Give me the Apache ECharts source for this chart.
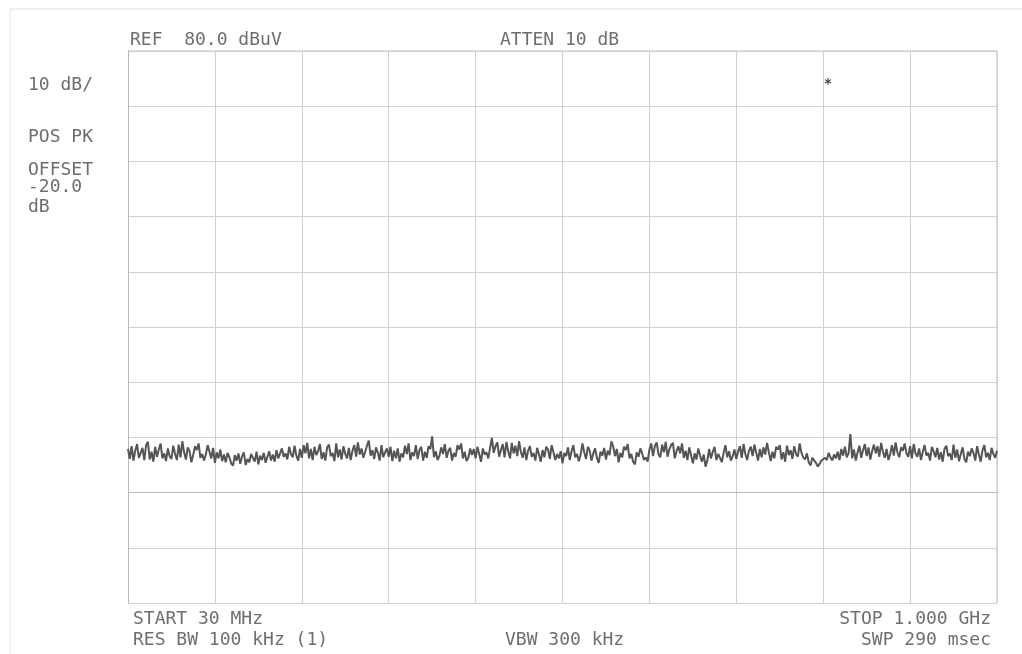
<!DOCTYPE html>
<html>
<head>
<meta charset="utf-8">
<style>
html,body{margin:0;padding:0;background:#fff;}
#chart{width:1022px;height:654px;}
</style>
<script src="https://cdn.jsdelivr.net/npm/echarts@6/dist/echarts.min.js"></script>
</head>
<body>
<div id="chart"></div>
<script>
// Sweep settings (MHz)
const START_MHZ = 30;
const STOP_MHZ = 1000;
// Amplitude scale (dBuV)
const REF_LEVEL = 80;
const DB_PER_DIV = 10;
const Y_MIN = -20;

// Trace values (dBuV), 481 sweep points (48 per division)
const traceCol1 = [7.9,6.1,8.4,5.8,7.6,8.8,6.3,7.2,8.1,5.9,8.6,9.2,6.0,7.4,5.6,8.3,6.5,7.8,8.9,6.2,7.1,5.7,8.0,6.6,6.1,8.5,7.0,5.9,8.7,6.4,9.3,7.3,6.0,8.2,7.5,5.5,6.8,8.4,7.7,8.9,6.3,7.0,5.8,6.9,8.6,7.4,6.2,8.1];
const traceCol2 = [5.4,7.3,6.2,7.8,5.7,6.9,5.5,7.2,6.4,5.3,4.9,6.8,5.8,7.1,5.2,6.6,7.3,5.0,6.1,5.5,7.0,6.3,5.6,7.4,5.1,6.7,5.9,7.2,5.4,6.5,7.5,5.8,6.9,5.6,7.7,6.2,5.9,8.0,6.5,7.1,6.0,8.3,7.0,6.4,8.5,6.7,5.8,7.9];
const traceCol3 = [6.3,8.6,7.1,9.0,6.2,7.9,5.9,8.3,6.8,7.5,8.8,6.1,7.3,5.8,8.2,8.7,6.6,7.2,5.7,8.9,6.4,7.8,6.0,8.4,7.0,6.2,8.1,5.9,7.6,8.6,6.5,9.1,6.9,8.0,6.3,7.4,8.5,9.4,6.7,7.7,6.1,8.2,7.2,5.8,8.6,6.4,7.3,8.0];
const traceCol4 = [6.5,8.3,5.7,7.6,6.2,8.0,5.6,7.1,6.4,8.5,7.0,8.9,5.9,7.3,6.6,8.6,6.1,7.7,8.3,5.8,7.4,6.3,8.4,7.9,10.2,6.4,7.5,5.9,6.6,8.2,7.0,8.8,6.3,7.6,8.1,5.8,7.2,6.5,8.6,7.8,8.9,6.2,7.4,5.7,6.3,8.0,6.8,7.9];
const traceCol5 = [6.2,8.3,7.0,5.6,8.0,6.9,7.3,6.2,8.1,9.9,7.2,8.4,9.1,6.5,7.7,8.8,6.4,9.2,7.5,6.2,9.0,7.1,8.5,6.6,9.3,7.4,6.3,8.2,5.9,7.6,8.4,6.5,7.2,5.8,8.1,6.9,5.6,7.7,6.4,8.3,7.8,6.1,8.6,7.3,5.9,7.0,6.2,7.5];
const traceCol6 = [5.3,7.2,6.6,8.2,5.9,7.5,8.6,6.4,7.0,5.7,6.8,8.9,7.3,6.1,8.3,7.6,5.8,7.1,8.0,6.3,5.4,7.4,6.7,8.1,6.0,7.6,6.8,9.3,8.4,6.6,7.9,5.5,7.2,6.4,8.3,7.7,8.8,6.2,7.0,5.6,5.1,7.3,6.5,8.0,7.1,5.9,6.4,5.6];
const traceCol7 = [7.8,8.9,6.6,8.4,9.1,7.0,6.4,8.7,7.3,9.2,6.5,7.8,8.6,9.0,6.2,7.5,8.4,7.1,8.9,6.3,7.6,5.9,8.2,6.8,5.3,7.1,6.0,8.0,6.7,5.6,6.9,4.7,5.8,7.9,6.2,7.4,8.3,5.9,7.0,6.3,5.5,7.2,8.6,6.4,7.5,5.8,6.6,7.8];
const traceCol8 = [6.1,7.5,8.4,6.3,8.8,7.0,5.9,7.6,8.3,6.6,8.7,7.2,5.8,7.9,6.4,8.2,6.9,9.0,7.3,5.7,7.4,6.2,8.3,7.8,8.6,6.0,7.3,5.6,8.5,6.8,7.7,6.1,8.4,7.0,6.5,8.9,7.2,6.4,6.0,7.1,5.5,4.9,6.3,6.6,5.4,4.7,5.2,5.8];
const traceCol9 = [5.5,6.3,5.9,7.2,6.4,5.8,6.9,6.2,7.4,5.9,7.9,6.7,8.3,6.4,7.1,10.6,6.2,7.8,5.8,7.3,8.5,6.3,7.7,8.8,6.6,8.2,6.0,7.5,8.7,7.1,8.4,6.5,9.0,7.4,6.3,7.9,5.9,7.0,8.6,6.7,9.1,7.3,6.4,8.2,7.6,8.9,7.1,6.5];
const traceCol10 = [8.4,6.2,8.8,7.1,6.5,8.0,5.9,7.4,8.6,6.7,7.2,5.8,8.3,7.5,6.4,8.1,6.0,7.3,5.6,7.9,8.5,6.6,7.1,5.9,8.7,6.3,7.8,5.7,7.0,8.2,6.1,5.5,7.4,6.6,8.0,7.2,5.8,8.4,6.9,5.6,7.7,8.6,6.4,7.2,5.9,8.1,7.0,6.3,7.6];

const traceValues = [].concat(traceCol1, traceCol2, traceCol3, traceCol4, traceCol5,
  traceCol6, traceCol7, traceCol8, traceCol9, traceCol10);

// Sweep point frequencies (categories)
const nPts = traceValues.length;
const freqCategories = traceValues.map((v, i) =>
  (START_MHZ + i * (STOP_MHZ - START_MHZ) / (nPts - 1)).toFixed(2));
const ptsPerDiv = (nPts - 1) / 10;

// Annotation texts
const textTopLeft = 'REF  80.0 dBuV';
const textTopMid = 'ATTEN 10 dB';
const textSide = ['10 dB/', 'POS PK', 'OFFSET', '-20.0', 'dB'];
const textBottomLeft = ['START 30 MHz', 'RES BW 100 kHz (1)'];
const textBottomMid = 'VBW 300 kHz';
const textBottomRight = ['STOP 1.000 GHz', 'SWP 290 msec'];

const FONT = '"DejaVu Sans Mono", "Liberation Mono", monospace';
const TXT = '#6e6e6e';
const GRID = '#d0d0d0';

function label(text, x, y, align) {
  return {
    type: 'text', x: x, y: y,
    style: { text: text, fill: TXT, font: '18px ' + FONT, textAlign: align || 'left', textVerticalAlign: 'middle' },
    z: 10
  };
}

const chart = echarts.init(document.getElementById('chart'), null, { renderer: 'canvas' });
chart.setOption({
  backgroundColor: '#ffffff',
  animation: false,
  grid: { left: 128, right: 25, top: 51, bottom: 51, containLabel: false },
  xAxis: {
    type: 'category',
    data: freqCategories,
    boundaryGap: false,
    axisLine: { show: true, lineStyle: { color: '#b9b9b9', width: 1 } },
    axisTick: { show: false },
    axisLabel: { show: false },
    splitLine: {
      show: true,
      interval: function (idx) { return idx % ptsPerDiv === 0; },
      lineStyle: { color: GRID, width: 1 }
    }
  },
  yAxis: {
    type: 'value',
    min: Y_MIN,
    max: REF_LEVEL,
    interval: DB_PER_DIV,
    axisLine: { show: true, lineStyle: { color: '#b9b9b9', width: 1 } },
    axisTick: { show: false },
    axisLabel: { show: false },
    splitLine: { show: true, lineStyle: { color: GRID, width: 1 } }
  },
  series: [{
    type: 'line',
    data: traceValues,
    showSymbol: false,
    symbol: 'none',
    lineStyle: { color: '#555555', width: 2 },
    z: 5
  }],
  graphic: [
    { type: 'line', shape: { x1: 10, y1: 9, x2: 1022, y2: 9 }, style: { stroke: '#e2e2e2', lineWidth: 1 } },
    { type: 'line', shape: { x1: 10, y1: 9, x2: 10, y2: 654 }, style: { stroke: '#e2e2e2', lineWidth: 1 } },
    { type: 'line', shape: { x1: 997, y1: 51, x2: 997, y2: 603 }, style: { stroke: '#b9b9b9', lineWidth: 1 } },
    { type: 'line', shape: { x1: 128, y1: 51, x2: 997, y2: 51 }, style: { stroke: '#b9b9b9', lineWidth: 1 } },
    label(textTopLeft, 130, 40),
    label(textTopMid, 500, 40),
    label(textSide[0], 28, 85),
    label(textSide[1], 28, 137),
    label(textSide[2], 28, 170),
    label(textSide[3], 28, 187),
    label(textSide[4], 28, 207),
    label(textBottomLeft[0], 133, 619),
    label(textBottomLeft[1], 133, 640),
    label(textBottomMid, 505, 640),
    label(textBottomRight[0], 991, 619, 'right'),
    label(textBottomRight[1], 991, 640, 'right'),
    { type: 'text', x: 828, y: 84, style: { text: '*', fill: '#444', font: 'bold 14px ' + FONT, textAlign: 'center', textVerticalAlign: 'middle' }, z: 10 }
  ]
});
</script>
</body>
</html>
